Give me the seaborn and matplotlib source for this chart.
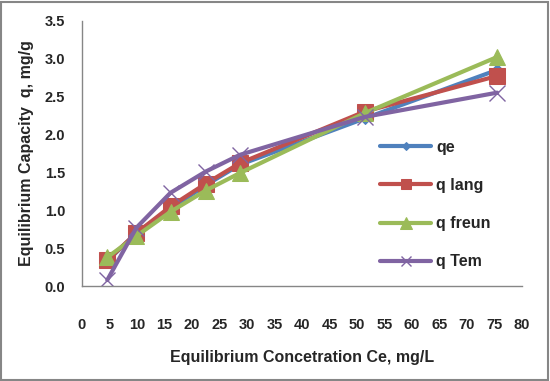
import matplotlib
matplotlib.use('Agg')
import matplotlib.pyplot as plt
import seaborn as sns
from matplotlib.patches import Rectangle

# valeurs
ce = [4.6, 9.9, 16.1, 22.5, 28.7, 51.4, 75.5]
qe = [0.33, 0.70, 1.02, 1.33, 1.60, 2.21, 2.85]
q_lang = [0.34, 0.70, 1.05, 1.35, 1.62, 2.30, 2.77]
q_freun = [0.38, 0.66, 0.98, 1.26, 1.49, 2.28, 3.02]
q_tem = [0.08, 0.77, 1.23, 1.51, 1.73, 2.23, 2.55]

series_names = ['qe', 'q lang', 'q freun', 'q Tem']
x_ticks = list(range(0, 85, 5))
y_ticks = [0.0, 0.5, 1.0, 1.5, 2.0, 2.5, 3.0, 3.5]

sns.set_style('white')
plt.rcParams['font.family'] = ['Liberation Sans', 'DejaVu Sans']

fig = plt.figure(figsize=(5.5, 3.81), dpi=100)
ax = fig.add_axes([0.149, 0.249, 0.8, 0.697])

styles = [
    dict(color='#4F81BD', marker='D', markersize=6, mec='#4F81BD'),
    dict(color='#C0504D', marker='s', markersize=11, mec='#C0504D'),
    dict(color='#9BBB59', marker='^', markersize=12, mec='#9BBB59'),
    dict(color='#8064A2', marker='x', markersize=11, mec='#8064A2', mew=1),
]

for name, vals, st in zip(series_names, [qe, q_lang, q_freun, q_tem], styles):
    sns.lineplot(x=ce, y=vals, ax=ax, label=name, linewidth=3, sort=False,
                 estimator=None, **st)

ax.set_xlim(0, 80)
ax.set_ylim(0, 3.5)
ax.set_xticks(x_ticks)
ax.set_xticklabels([str(t) for t in x_ticks])
ax.set_yticks(y_ticks)
ax.set_yticklabels([f'{t:.1f}' for t in y_ticks])

for s in ['top', 'right']:
    ax.spines[s].set_visible(False)
for s in ['left', 'bottom']:
    ax.spines[s].set_color('#868686')
    ax.spines[s].set_linewidth(1)

ax.tick_params(axis='x', direction='out', length=5, color='#868686', pad=18,
               labelsize=10.5)
ax.tick_params(axis='y', direction='out', length=5, color='#868686', pad=7,
               labelsize=10.5)
for lab in ax.get_xticklabels() + ax.get_yticklabels():
    lab.set_fontweight('bold')

ax.set_xlabel('Equilibrium Concetration Ce, mg/L', fontsize=11.5, fontweight='bold', labelpad=13)
ax.set_ylabel('Equilibrium Capacity  q, mg/g', fontsize=11.5, fontweight='bold', labelpad=8)

leg = ax.legend(loc='upper left', bbox_to_anchor=(0.645, 0.605), frameon=False,
                labelspacing=1.45, handlelength=3.2, handletextpad=0.3,
                markerscale=0.7, prop={'weight': 'bold', 'size': 11.5})

# cadre gris autour du graphique
fig.patches.append(Rectangle((0.002, 0.003), 0.994, 0.992, transform=fig.transFigure,
                             fill=False, edgecolor='#868686', linewidth=1.5))

fig.savefig('out.png', dpi=100)
